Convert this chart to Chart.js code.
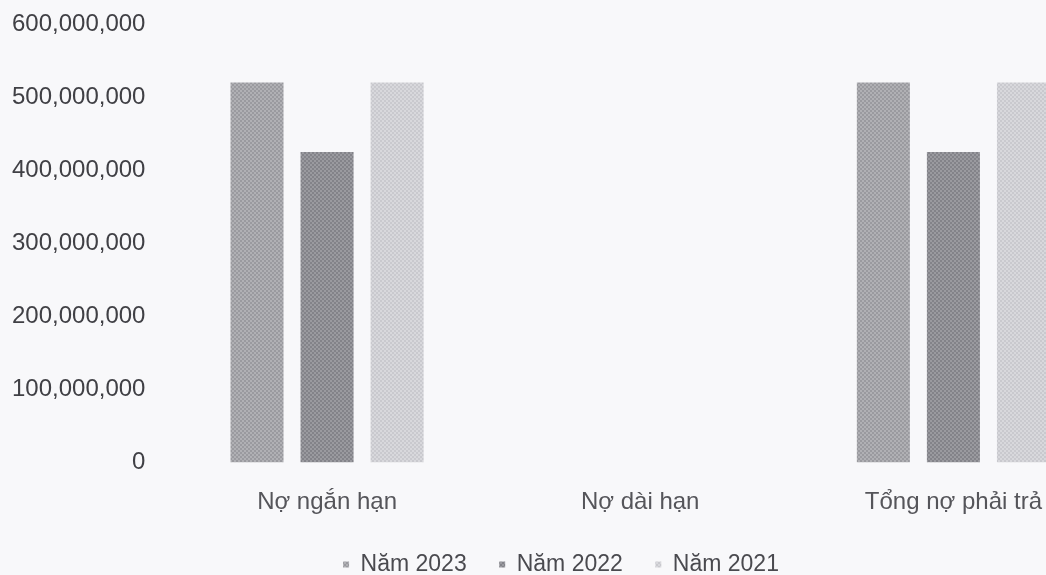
<!DOCTYPE html>
<html>
<head>
<meta charset="utf-8">
<script src="https://cdn.jsdelivr.net/npm/chart.js@4"></script>
<style>
  html, body { margin: 0; padding: 0; background: #f8f8fa; overflow: hidden; }
  #wrap { width: 1046px; height: 575px; overflow: hidden; }
</style>
</head>
<body>
<div id="wrap"><canvas id="debtChart" width="1136" height="586"></canvas></div>
<script>
// Data
const categories = ["Nợ ngắn hạn", "Nợ dài hạn", "Tổng nợ phải trả"];
const seriesNames = ["Năm 2023", "Năm 2022", "Năm 2021"];
const nam2023 = [520000000, 0, 520000000];
const nam2022 = [425000000, 0, 425000000];
const nam2021 = [520000000, 0, 520000000];
const seriesValues = [nam2023, nam2022, nam2021];

// dotted halftone look of the printed bars
function dotPattern(base, dot) {
  const c = document.createElement("canvas");
  c.width = 4;
  c.height = 4;
  const g = c.getContext("2d");
  g.fillStyle = base;
  g.fillRect(0, 0, 4, 4);
  g.fillStyle = dot;
  g.fillRect(0, 0, 2, 2);
  g.fillRect(2, 2, 2, 2);
  return g.createPattern(c, "repeat");
}

const fills = [
  dotPattern("#b0b0b4", "#9a9a9f"),
  dotPattern("#9a9a9f", "#838389"),
  dotPattern("#d8d8dc", "#c9c9ce"),
];

new Chart(document.getElementById("debtChart"), {
  type: "bar",
  data: {
    labels: categories,
    datasets: seriesNames.map((name, i) => ({
      label: name,
      data: seriesValues[i],
      backgroundColor: fills[i],
      borderWidth: 0,
      categoryPercentage: 0.671,
      barPercentage: 0.757,
    })),
  },
  options: {
    responsive: false,
    animation: false,
    layout: { padding: { left: 12, right: 26, top: 24, bottom: 0 } },
    plugins: {
      tooltip: { enabled: false },
      legend: {
        position: "bottom",
        labels: {
          boxWidth: 6,
          boxHeight: 6,
          padding: 32.5,
          color: "#4a4a4f",
          font: { family: "Liberation Sans, Arial", size: 23 },
        },
      },
    },
    scales: {
      x: {
        // tick marks hidden, tickLength only used as spacing
        grid: { display: false, tickLength: 22 },
        border: { display: false },
        ticks: {
          color: "#55555a",
          padding: 3.6,
          font: { family: "Liberation Sans, Arial", size: 24 },
        },
      },
      y: {
        min: 0,
        max: 600000000,
        grid: { display: false, tickLength: 25 },
        border: { display: false },
        ticks: {
          stepSize: 100000000,
          color: "#404045",
          padding: 0,
          font: { family: "Liberation Sans, Arial", size: 24 },
          callback: (v) => v.toLocaleString("en-US"),
        },
      },
    },
  },
});
</script>
</body>
</html>
